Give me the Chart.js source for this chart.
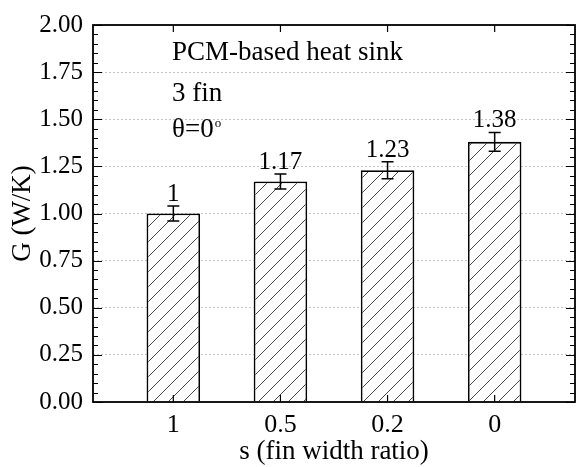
<!DOCTYPE html>
<html>
<head>
<meta charset="utf-8">
<script src="https://cdn.jsdelivr.net/npm/chart.js@4"></script>
<style>
    html, body { margin: 0; padding: 0; background: #fff; }
    #wrap { width: 577px; height: 467px; }
</style>
</head>
<body>
<div id="wrap"><canvas id="chart"></canvas></div>
<script>
// chart data
const categories = ['1', '0.5', '0.2', '0'];
const conductance = [1.00, 1.17, 1.23, 1.38];
const errors = [0.04, 0.04, 0.045, 0.05];
const valueLabels = ['1', '1.17', '1.23', '1.38'];
const yTicks = [0, 0.25, 0.5, 0.75, 1.0, 1.25, 1.5, 1.75, 2.0];
const notes = ['PCM-based heat sink', '3 fin'];

const SERIF = '"Liberation Serif", "Times New Roman", serif';

function makeHatch() {
    const size = 15;
    const c = document.createElement('canvas');
    c.width = size;
    c.height = size;
    const g = c.getContext('2d');
    g.fillStyle = '#fff';
    g.fillRect(0, 0, size, size);
    g.strokeStyle = '#333';
    g.lineWidth = 0.9;
    g.beginPath();
    g.moveTo(-2, size + 2);
    g.lineTo(size + 2, -2);
    g.moveTo(-2, 2);
    g.lineTo(2, -2);
    g.moveTo(size - 2, size + 2);
    g.lineTo(size + 2, size - 2);
    g.stroke();
    return g.createPattern(c, 'repeat');
}

// frame, inward ticks, error bars, labels and notes
const decorations = {
    id: 'decorations',
    afterDatasetsDraw(chart) {
        const ctx = chart.ctx;
        const x = chart.scales.x;
        const y = chart.scales.y;

        // error bars
        ctx.save();
        ctx.strokeStyle = '#000';
        ctx.lineWidth = 1.5;
        conductance.forEach((v, i) => {
            const px = x.getPixelForValue(i);
            const top = y.getPixelForValue(v + errors[i]);
            const bot = y.getPixelForValue(v - errors[i]);
            ctx.beginPath();
            ctx.moveTo(px, top);
            ctx.lineTo(px, bot);
            ctx.moveTo(px - 6, top);
            ctx.lineTo(px + 6, top);
            ctx.moveTo(px - 6, bot);
            ctx.lineTo(px + 6, bot);
            ctx.stroke();

            ctx.fillStyle = '#000';
            ctx.font = '25px ' + SERIF;
            ctx.textAlign = 'center';
            ctx.textBaseline = 'alphabetic';
            ctx.fillText(valueLabels[i], px, top - 5);
        });
        ctx.restore();
    },
    afterDraw(chart) {
        const ctx = chart.ctx;
        const a = chart.chartArea;
        const x = chart.scales.x;
        const y = chart.scales.y;

        ctx.save();
        ctx.strokeStyle = '#000';
        ctx.lineWidth = 1.2;
        ctx.beginPath();
        // minor / major ticks on left and right
        for (let k = 0; k <= 40; k++) {
            const py = Math.round(y.getPixelForValue(k * 0.05)) + 0.5;
            const len = k % 5 === 0 ? 9 : 5;
            ctx.moveTo(a.left, py);
            ctx.lineTo(a.left + len, py);
            ctx.moveTo(a.right, py);
            ctx.lineTo(a.right - len, py);
        }
        // category ticks on top and bottom
        categories.forEach((c, i) => {
            const px = x.getPixelForValue(i);
            ctx.moveTo(px, a.top);
            ctx.lineTo(px, a.top + 7);
            ctx.moveTo(px, a.bottom);
            ctx.lineTo(px, a.bottom - 7);
        });
        ctx.stroke();

        ctx.lineWidth = 1.8;
        ctx.strokeRect(a.left, a.top, a.right - a.left, a.bottom - a.top);

        // notes
        ctx.fillStyle = '#000';
        ctx.font = '27px ' + SERIF;
        ctx.textAlign = 'left';
        ctx.textBaseline = 'alphabetic';
        const nx = a.left + 79;
        ctx.fillText(notes[0], nx, 60);
        ctx.fillText(notes[1], nx, 101);
        const theta = '\u03b8=0';
        ctx.fillText(theta, nx, 137);
        const w = ctx.measureText(theta).width;
        ctx.font = '13px ' + SERIF;
        ctx.fillText('o', nx + w + 1, 127);
        ctx.restore();
    }
};

document.addEventListener('DOMContentLoaded', function () {
    const ctx = document.getElementById('chart').getContext('2d');
    const hatch = makeHatch();

    new Chart(ctx, {
        type: 'bar',
        data: {
            datasets: [{
                data: conductance.map((v, i) => ({ x: i, y: v })),
                backgroundColor: hatch,
                borderColor: '#000',
                borderWidth: 1.8,
                categoryPercentage: 1,
                barPercentage: 0.5
            }]
        },
        options: {
            responsive: true,
            maintainAspectRatio: false,
            animation: false,
            events: [],
            layout: { padding: { top: 18, right: 2, left: 5, bottom: 0 } },
            plugins: {
                legend: { display: false },
                tooltip: { enabled: false }
            },
            scales: {
                x: {
                    type: 'linear',
                    offset: false,
                    min: -0.75,
                    max: 3.75,
                    afterBuildTicks: (scale) => {
                        scale.ticks = categories.map((c, i) => ({ value: i }));
                    },
                    afterFit: (scale) => { scale.height = 65; },
                    grid: { display: false, drawTicks: false, offset: false },
                    border: { display: false },
                    ticks: {
                        color: '#000',
                        font: { family: SERIF, size: 26 },
                        padding: 8,
                        maxRotation: 0,
                        callback: (v) => categories[v]
                    },
                    title: {
                        display: true,
                        text: 's (fin width ratio)',
                        color: '#000',
                        font: { family: SERIF, size: 27, lineHeight: 0.8 }
                    }
                },
                y: {
                    min: 0,
                    max: 2,
                    afterBuildTicks: (scale) => {
                        scale.ticks = yTicks.map((v) => ({ value: v }));
                    },
                    afterFit: (scale) => { scale.width = 88; },
                    grid: { color: '#c4c4c4', lineWidth: 1, drawTicks: false },
                    border: { display: false, dash: [2, 2] },
                    ticks: {
                        color: '#000',
                        font: { family: SERIF, size: 25 },
                        padding: 10,
                        callback: (v) => v.toFixed(2)
                    },
                    title: {
                        display: true,
                        text: 'G (W/K)',
                        color: '#000',
                        font: { family: SERIF, size: 27, lineHeight: 1 }
                    }
                }
            }
        },
        plugins: [decorations]
    });
});
</script>
</body>
</html>
